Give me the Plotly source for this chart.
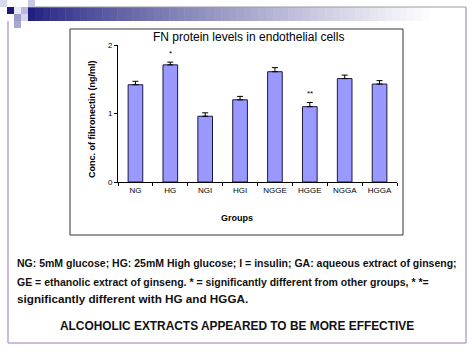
import plotly.graph_objects as go

groups = ["NG", "HG", "NGI", "HGI", "NGGE", "HGGE", "NGGA", "HGGA"]
fn_levels = [1.42, 1.71, 0.96, 1.20, 1.61, 1.10, 1.51, 1.43]
fn_errors = [0.05, 0.04, 0.05, 0.05, 0.06, 0.06, 0.05, 0.05]
sig_marks = ["", "*", "", "", "", "**", "", ""]
y_ticks = [0, 1, 2]

W, H = 474, 355
L, R, T, B = 118, 77, 45, 173
PW, PH = W - L - R, H - T - B

def px(x):
    return (x - L) / PW

def py(y):
    return (H - B - y) / PH

FONT = "Liberation Sans, Arial, sans-serif"

fig = go.Figure()
fig.add_trace(go.Bar(
    x=groups, y=fn_levels,
    width=0.42,
    marker=dict(color="#9999ff", line=dict(color="#1a1a40", width=1)),
    error_y=dict(type="data", array=fn_errors, arrayminus=[0] * len(fn_errors),
                 symmetric=False, color="#000000", thickness=1, width=3),
    showlegend=False,
))

shapes = []
# header gradient bar
n = 60
x0, x1 = 28, 474
c0 = (32, 32, 128)
c1 = (255, 255, 255)
for i in range(n):
    t = i / (n - 1)
    tt = min(1.0, t * 1.1)
    col = tuple(int(c0[k] + (c1[k] - c0[k]) * (tt ** 0.8)) for k in range(3))
    xa = x0 + (x1 - x0) * i / n
    xb = x0 + (x1 - x0) * (i + 1) / n + 0.5
    shapes.append(dict(type="rect", xref="paper", yref="paper",
                       x0=px(xa), x1=px(xb), y0=py(21), y1=py(7),
                       fillcolor="rgb(%d,%d,%d)" % col, line=dict(width=0), layer="below"))
shapes.append(dict(type="line", xref="paper", yref="paper", x0=px(28), x1=px(466),
                   y0=py(7), y1=py(7), line=dict(color="#9a9aa8", width=1)))
# decorative squares
sq = [
    (0, 0, 7, 7, "#d8d8ec"),
    (28, 0, 35, 7, "#c8c8e4"),
    (7, 7, 14, 14, "#1c1c78"),
    (14, 7, 21, 14, "#e8e8f4"),
    (21, 7, 28, 14, "#b8b8dc"),
    (14, 14, 21, 21, "#9c9cc8"),
    (21, 14, 28, 21, "#d4d4ea"),
    (14, 21, 21, 28, "#a8a8d0"),
]
for a, b, c, d, col in sq:
    shapes.append(dict(type="rect", xref="paper", yref="paper",
                       x0=px(a), x1=px(c), y0=py(d), y1=py(b),
                       fillcolor=col, line=dict(width=0)))
# slide frame
shapes.append(dict(type="line", xref="paper", yref="paper", x0=px(8), x1=px(8),
                   y0=py(343), y1=py(21), line=dict(color="#b8a8c8", width=1.5)))
shapes.append(dict(type="line", xref="paper", yref="paper", x0=px(8), x1=px(466),
                   y0=py(343), y1=py(343), line=dict(color="#b8a8c8", width=1.5)))
shapes.append(dict(type="line", xref="paper", yref="paper", x0=px(466), x1=px(466),
                   y0=py(343), y1=py(7), line=dict(color="#b8a8c8", width=1.5)))
# chart box
shapes.append(dict(type="rect", xref="paper", yref="paper", x0=px(70), x1=px(403),
                   y0=py(235), y1=py(29), line=dict(color="#333333", width=1)))

def note(text, x, y, size, xanchor="center", angle=0, color="#000"):
    return dict(text=text, xref="paper", yref="paper", x=px(x), y=py(y),
                xanchor=xanchor, yanchor="middle", textangle=angle, showarrow=False,
                font=dict(family=FONT, size=size, color=color))

annotations = [
    note("FN protein levels in endothelial cells", 248, 37, 12),
    note("<b>Groups</b>", 237, 218, 9),
    note("<b>Conc. of fibronectin (ng/ml)</b>", 92, 119, 9, angle=-90),
    note("<b>NG: 5mM glucose; HG: 25mM High glucose; I = insulin; GA: aqueous extract of ginseng;</b>",
         15, 263, 10.5, xanchor="left", color="#111"),
    note("<b>GE = ethanolic extract of ginseng. * = significantly different from other groups, * *=</b>",
         15, 282, 10.5, xanchor="left", color="#111"),
    note("<b>significantly different with HG and HGGA.</b>", 15, 298, 11.7, xanchor="left", color="#111"),
    note("<b>ALCOHOLIC EXTRACTS APPEARED TO BE MORE EFFECTIVE</b>", 237, 326, 11.9, color="#111"),
]
for g, v, e, m in zip(groups, fn_levels, fn_errors, sig_marks):
    if m:
        annotations.append(dict(text=m, x=g, y=v + e + 0.13, xref="x", yref="y",
                                yanchor="middle", showarrow=False,
                                font=dict(family=FONT, size=8, color="#000")))

fig.update_layout(
    width=W, height=H,
    margin=dict(l=L, r=R, t=T, b=B),
    paper_bgcolor="white", plot_bgcolor="white",
    shapes=shapes, annotations=annotations,
    xaxis=dict(showline=True, linecolor="#000", linewidth=1, ticks="outside",
               tickson="boundaries", ticklen=3, tickcolor="#000",
               tickfont=dict(family=FONT, size=8, color="#000"), showgrid=False),
    yaxis=dict(range=[0, 2], tickvals=y_ticks, showline=True, linecolor="#000",
               linewidth=1, ticks="outside", ticklen=3, tickcolor="#000",
               tickfont=dict(family=FONT, size=8, color="#000"), showgrid=False,
               zeroline=False),
)
fig.write_html("out.html", config={"displayModeBar": False},
               post_script="document.body.style.margin='0';")
